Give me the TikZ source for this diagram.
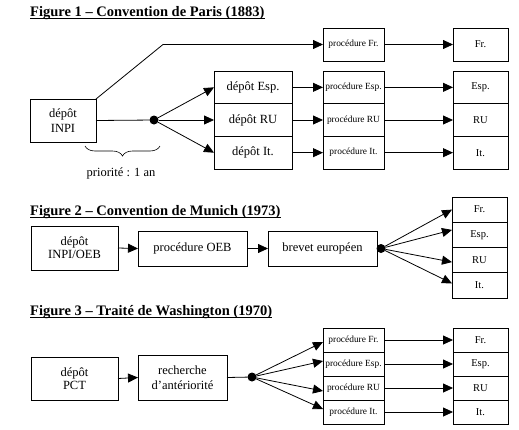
\documentclass[tikz,border=0pt]{standalone}
\usepackage{fontspec}
\setmainfont{Liberation Serif}
\usetikzlibrary{arrows.meta,decorations.pathreplacing}
\begin{document}
\begin{tikzpicture}[x=1pt,y=-1pt,
  box/.style={draw, line width=0.8pt, inner sep=0pt, outer sep=0pt, align=center, font=\fontsize{12.5}{13}\selectfont},
  smallbox/.style={box, font=\fontsize{9.4}{11}\selectfont},
  midbox/.style={box, font=\fontsize{10.5}{12}\selectfont},
  arr/.style={line width=0.8pt, -{Triangle[length=10pt,width=9pt]}},
  ln/.style={line width=0.8pt},
  dotnode/.style={circle, fill, inner sep=0pt, outer sep=0pt, minimum size=9pt},
  figtitle/.style={anchor=base west, inner sep=0pt, font=\fontsize{14.5}{17}\selectfont\bfseries},
  uline/.style={line width=1pt}]
\useasboundingbox (0,0) rectangle (519,429);

% ---------- Figure 1 ----------
\node[figtitle] (t1) at (30,16) {Figure 1 – Convention de Paris (1883)};
\draw[uline] ([yshift=-2.5pt]t1.base west) -- ([yshift=-2.5pt]t1.base east);

\node[box, minimum width=66pt, minimum height=43pt, font=\fontsize{12.5}{15.5}\selectfont] (inpi) at (63,120.5) {dépôt\\INPI};
\node[dotnode] (d1) at (154,120) {};

\node[box, minimum width=78pt, minimum height=32.67pt] (depEsp) at (253,87.33) {dépôt Esp.};
\node[box, minimum width=78pt, minimum height=32.67pt] (depRU) at (253,120) {dépôt RU};
\node[box, minimum width=78pt, minimum height=32.67pt] (depIt) at (253,152.67) {dépôt It.};

\node[smallbox, minimum width=61pt, minimum height=33pt] (procFr1) at (353.5,44.5) {procédure Fr.};
\node[smallbox, minimum width=61pt, minimum height=32.67pt] (procEsp1) at (353.5,87.33) {procédure Esp.};
\node[smallbox, minimum width=61pt, minimum height=32.67pt] (procRU1) at (353.5,120) {procédure RU};
\node[smallbox, minimum width=61pt, minimum height=32.67pt] (procIt1) at (353.5,152.67) {procédure It.};

\node[midbox, minimum width=55pt, minimum height=33pt] (fr1) at (480.5,44.5) {Fr.};
\node[midbox, minimum width=55pt, minimum height=32.67pt] (esp1) at (480.5,87.33) {Esp.};
\node[midbox, minimum width=55pt, minimum height=32.67pt] (ru1) at (480.5,120) {RU};
\node[midbox, minimum width=55pt, minimum height=32.67pt] (it1) at (480.5,152.67) {It.};

\coordinate (bend1) at (163,44.5);
\draw[ln] (inpi.north east) -- (bend1);
\draw[arr] (bend1) -- (procFr1.west);
\draw[ln] (inpi.east) -- (d1);
\draw[arr] (d1) -- (depEsp.west);
\draw[arr] (d1) -- (depRU.west);
\draw[arr] (d1) -- (depIt.west);
\draw[arr] (depEsp.east) -- (procEsp1.west);
\draw[arr] (depRU.east) -- (procRU1.west);
\draw[arr] (depIt.east) -- (procIt1.west);
\draw[arr] (procFr1.east) -- (fr1.west);
\draw[arr] (procEsp1.east) -- (esp1.west);
\draw[arr] (procRU1.east) -- (ru1.west);
\draw[arr] (procIt1.east) -- (it1.west);

\coordinate (b1) at (85,146);
\coordinate (b2) at (160,146);
\draw[line width=0.6pt, decorate, decoration={brace, mirror, amplitude=10pt}] (b1) -- (b2);
\node[inner sep=0pt, font=\fontsize{12.5}{14}\selectfont] (prio) at (121,173) {priorité : 1 an};

% ---------- Figure 2 ----------
\node[figtitle] (t2) at (30,215) {Figure 2 – Convention de Munich (1973)};
\draw[uline] ([yshift=-2.5pt]t2.base west) -- ([yshift=-2.5pt]t2.base east);

\node[box, minimum width=87pt, minimum height=44pt] (dep2) at (74.5,248) {dépôt\\INPI/OEB};
\node[box, minimum width=109pt, minimum height=35pt] (oeb) at (192.5,248.5) {procédure OEB};
\node[box, minimum width=109pt, minimum height=35pt] (brevet) at (322.5,248.5) {brevet européen};
\node[dotnode] (d2) at (381,248.5) {};

\node[midbox, minimum width=55pt, minimum height=25.25pt] (fr2) at (479.5,209.6) {Fr.};
\node[midbox, minimum width=55pt, minimum height=25.25pt] (esp2) at (479.5,234.9) {Esp.};
\node[midbox, minimum width=55pt, minimum height=25.25pt] (ru2) at (479.5,260.1) {RU};
\node[midbox, minimum width=55pt, minimum height=25.25pt] (it2) at (479.5,285.4) {It.};

\draw[arr] (dep2.east) -- (oeb.west);
\draw[arr] (oeb.east) -- (brevet.west);
\draw[arr] (d2) -- (fr2.west);
\draw[arr] (d2) -- ([yshift=5pt]esp2.west);
\draw[arr] (d2) -- ([yshift=-2pt]ru2.west);
\draw[arr] (d2) -- ([yshift=2pt]it2.west);

% ---------- Figure 3 ----------
\node[figtitle] (t3) at (30,315) {Figure 3 – Traité de Washington (1970)};
\draw[uline] ([yshift=-2.5pt]t3.base west) -- ([yshift=-2.5pt]t3.base east);

\node[box, minimum width=87pt, minimum height=43pt] (dep3) at (74.5,378.5) {dépôt\\PCT};
\node[box, minimum width=89pt, minimum height=45pt, font=\fontsize{12.5}{15}\selectfont] (rech) at (182.5,377.5) {recherche\\d’antériorité};
\node[dotnode] (d3) at (252,377) {};

\node[smallbox, minimum width=61pt, minimum height=24pt] (procFr3) at (353.5,340) {procédure Fr.};
\node[smallbox, minimum width=61pt, minimum height=24pt] (procEsp3) at (353.5,364) {procédure Esp.};
\node[smallbox, minimum width=61pt, minimum height=24pt] (procRU3) at (353.5,388) {procédure RU};
\node[smallbox, minimum width=61pt, minimum height=24pt] (procIt3) at (353.5,412) {procédure It.};

\node[midbox, minimum width=55pt, minimum height=24pt] (fr3) at (480.5,340) {Fr.};
\node[midbox, minimum width=55pt, minimum height=24pt] (esp3) at (480.5,364) {Esp.};
\node[midbox, minimum width=55pt, minimum height=24pt] (ru3) at (480.5,388) {RU};
\node[midbox, minimum width=55pt, minimum height=24pt] (it3) at (480.5,412) {It.};

\draw[arr] (dep3.east) -- (rech.west);
\draw[ln] (rech.east) -- (d3);
\draw[arr] (d3) -- ([yshift=-2pt]procFr3.west);
\draw[arr] (d3) -- ([yshift=3pt]procEsp3.west);
\draw[arr] (d3) -- ([yshift=-3pt]procRU3.west);
\draw[arr] (d3) -- ([yshift=3pt]procIt3.west);
\draw[arr] (procFr3.east) -- (fr3.west);
\draw[arr] (procEsp3.east) -- (esp3.west);
\draw[arr] (procRU3.east) -- (ru3.west);
\draw[arr] (procIt3.east) -- (it3.west);
\end{tikzpicture}
\end{document}
